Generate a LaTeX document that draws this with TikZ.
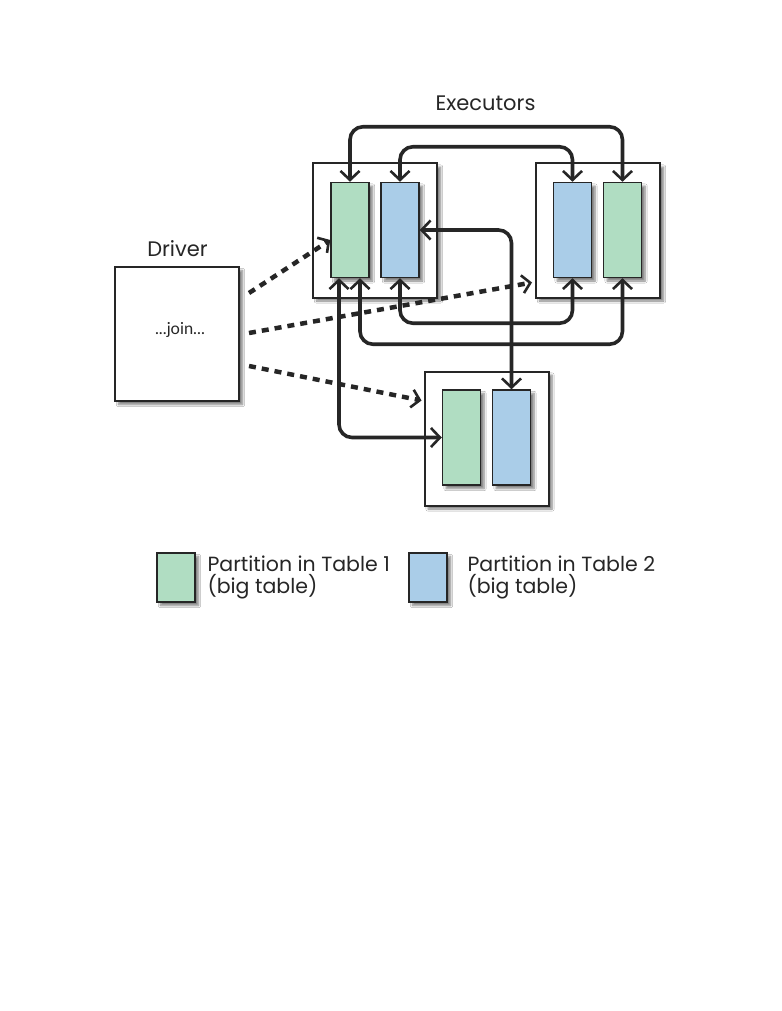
\documentclass[tikz,border=0pt]{standalone}
\usepackage{fontspec}
\setmainfont{Poppins}
\newfontfamily\joinfont{Lato}
\usetikzlibrary{arrows.meta,shadows.blur,calc}
\definecolor{ink}{HTML}{262626}
\definecolor{tblone}{RGB}{176,221,194}
\definecolor{tbltwo}{RGB}{170,205,232}
\tikzset{
  x=1pt, y=-1pt,
  barb/.tip={Straight Barb[length=9pt,width=19pt,line width=2.6pt]},
  softshadow/.style={blur shadow={shadow xshift=3.5pt, shadow yshift=-3.5pt, shadow blur steps=6, shadow opacity=50}},
  hostbox/.style={draw=ink, line width=2pt, fill=white, minimum width=#1, inner sep=0pt, softshadow},
  part/.style={draw=ink, line width=1.5pt, fill=#1, minimum width=38pt, minimum height=95pt, inner sep=0pt, softshadow},
  conn/.style={draw=ink, line width=3.6pt, rounded corners=13pt, {barb}-{barb}},
  launch/.style={draw=ink, line width=4.5pt, dash pattern=on 7pt off 6pt, -{Straight Barb[length=8pt,width=18pt,line width=2.6pt]}},
  lbl/.style={font=\fontsize{21}{24}\selectfont, text=ink},
  keytext/.style={anchor=west, align=left, text=ink, font=\fontsize{20.5}{22}\selectfont},
}
\begin{document}
\begin{tikzpicture}
\useasboundingbox (0,0) rectangle (781,1011);
\fill[white] (0,0) rectangle (781,1011);

% executor hosts
\node[hostbox=124pt, minimum height=134pt] (e1) at (375,230.5) {};
\node[hostbox=124pt, minimum height=134pt] (e2) at (598,230.5) {};
\node[hostbox=124pt, minimum height=134pt] (e3) at (486.5,438.5) {};

% partitions
\node[part=tblone] (g1) at (350,230) {};
\node[part=tbltwo] (b1) at (400,230) {};
\node[part=tbltwo] (b2) at (572.5,230) {};
\node[part=tblone] (g2) at (622.5,230) {};
\node[part=tblone] (g3) at (461.5,437.5) {};
\node[part=tbltwo] (b3) at (511.5,437.5) {};

% driver
\node[hostbox=124pt, minimum height=134pt] (drv) at (177,334) {};
\node[font=\joinfont\fontsize{16.5}{18}\selectfont, text=ink] (job) at (180,330) {...join...};
\node[lbl] (drvlbl) at (177.5,249) {Driver};
\node[lbl] (exlbl) at (485.5,103) {Executors};

% shuffle connectors between partitions
\draw[conn] (g1.north) -- ++(0,-55) -| (g2.north);
\draw[conn] (b1.north) -- ++(0,-35) -| (b2.north);
\draw[conn] (b1.south) -- ++(0,45) -| (b2.south);
\draw[conn] ([xshift=10pt]g1.south) -- ++(0,66) -| (g2.south);
\draw[conn] ([xshift=-11pt]g1.south) |- (g3.west);
\draw[conn] (b1.east) -| (b3.north);

% driver launching tasks
\draw[launch] ([xshift=9pt,yshift=41pt]drv.east) -- ([yshift=-10pt]g1.west);
\draw[launch] ([xshift=9pt,yshift=1pt]drv.east) -- ([xshift=-3pt,yshift=-52pt]e2.west);
\draw[launch] ([xshift=9pt,yshift=-32pt]drv.east) -- ([xshift=-2pt,yshift=38pt]e3.west);

% legend
\node[part=tblone, minimum height=49pt] (k1) at (176,577.5) {};
\node[part=tbltwo, minimum height=49pt] (k2) at (428,577.5) {};
\node[keytext] (k1t) at (204,577) {Partition in Table 1\\(big table)};
\node[keytext] (k2t) at (464,577) {Partition in Table 2\\(big table)};
\end{tikzpicture}
\end{document}
